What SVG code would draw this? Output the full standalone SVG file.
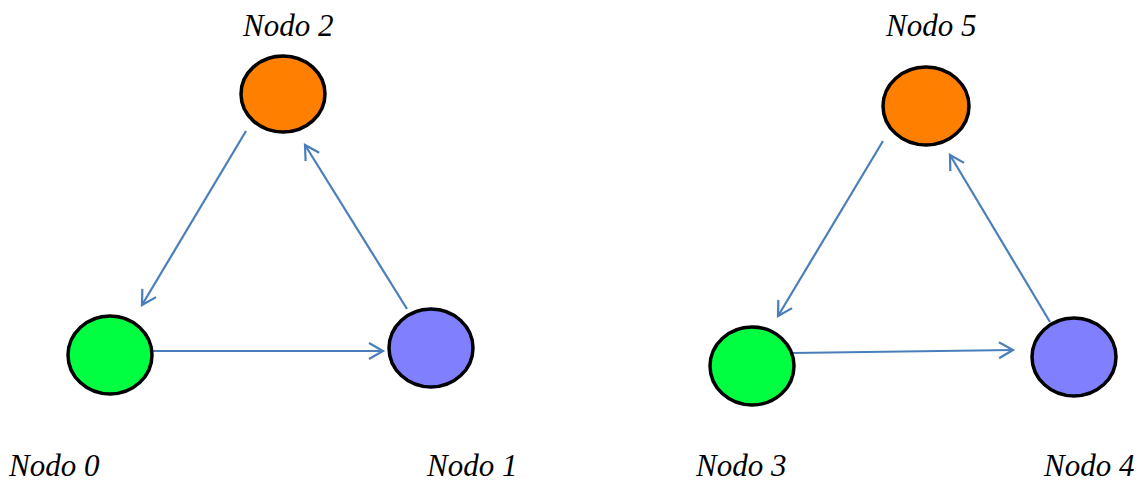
<svg xmlns="http://www.w3.org/2000/svg" width="1138" height="481" viewBox="0 0 1138 481">
  <style>
    .node { stroke: #000; stroke-width: 3.5; }
    .green { fill: #00ff40; }
    .blue { fill: #8080ff; }
    .orange { fill: #ff8000; }
    .edge { stroke: #4a7ebb; stroke-width: 2.2; fill: none; marker-end: url(#arrow); }
    .label { font-family: "Liberation Serif", "Times New Roman", serif; font-style: italic; font-size: 31px; fill: #000; }
  </style>
  <defs>
    <marker id="arrow" markerUnits="userSpaceOnUse" markerWidth="20" markerHeight="20" viewBox="-16 -10 18 20" refX="0" refY="0" orient="auto">
      <path d="M-14,-8 L0,0 L-14,8" fill="none" stroke="#4a7ebb" stroke-width="2.2"/>
    </marker>
  </defs>
  <rect width="1138" height="481" fill="#fff"/>

  <g id="connectors">
    <line class="edge" x1="246" y1="131" x2="142" y2="305"/>
    <line class="edge" x1="152" y1="351" x2="383" y2="351"/>
    <line class="edge" x1="407" y1="309" x2="305" y2="145"/>
    <line class="edge" x1="883" y1="141" x2="778" y2="316"/>
    <line class="edge" x1="792" y1="353" x2="1013" y2="350"/>
    <line class="edge" x1="1050" y1="322" x2="950" y2="155"/>
  </g>

  <g id="node0">
    <ellipse class="node green" cx="110" cy="355" rx="42" ry="39"/>
    <text class="label" x="9" y="476">Nodo 0</text>
  </g>
  <g id="node1">
    <ellipse class="node blue" cx="431" cy="348" rx="42" ry="39"/>
    <text class="label" x="427" y="476">Nodo 1</text>
  </g>
  <g id="node2">
    <ellipse class="node orange" cx="283" cy="94" rx="42" ry="38"/>
    <text class="label" x="243" y="36">Nodo 2</text>
  </g>
  <g id="node3">
    <ellipse class="node green" cx="752" cy="366" rx="42" ry="39"/>
    <text class="label" x="696" y="476">Nodo 3</text>
  </g>
  <g id="node4">
    <ellipse class="node blue" cx="1074" cy="357" rx="42" ry="39"/>
    <text class="label" x="1044" y="476">Nodo 4</text>
  </g>
  <g id="node5">
    <ellipse class="node orange" cx="926" cy="106" rx="43" ry="39"/>
    <text class="label" x="886" y="36">Nodo 5</text>
  </g>
</svg>
